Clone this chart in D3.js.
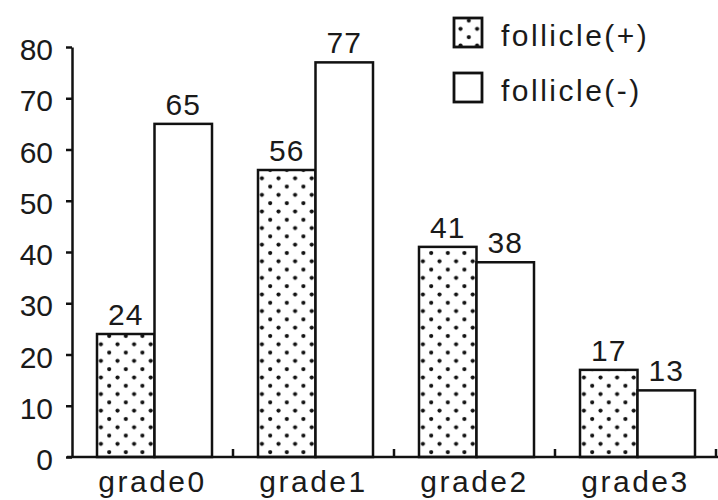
<!DOCTYPE html>
<html>
<head>
<meta charset="utf-8">
<script src="https://cdn.jsdelivr.net/npm/d3@7"></script>
<style>
  html, body { margin: 0; padding: 0; background: #fff; }
  svg { display: block; }
  text { font-family: "Liberation Sans", Arial, sans-serif; fill: #1a1a1a; }
</style>
</head>
<body>
<svg id="chart" width="718" height="500"></svg>
<script>
const categories = ["grade0", "grade1", "grade2", "grade3"];
const seriesNames = ["follicle(+)", "follicle(-)"];
const folliclePlus = [24, 56, 41, 17];
const follicleMinus = [65, 77, 38, 13];
const yTicks = [0, 10, 20, 30, 40, 50, 60, 70, 80];

const svg = d3.select("#chart");

// dotted pattern
const defs = svg.append("defs");
const pat = defs.append("pattern")
  .attr("id", "dots")
  .attr("patternUnits", "userSpaceOnUse")
  .attr("width", 16.6).attr("height", 16.6);
pat.append("rect").attr("width", 16.6).attr("height", 16.6).attr("fill", "#fff");
pat.append("circle").attr("cx", 4).attr("cy", 4).attr("r", 2.1).attr("fill", "#111");
pat.append("circle").attr("cx", 12.3).attr("cy", 12.3).attr("r", 2.1).attr("fill", "#111");

const x0 = d3.scaleBand().domain(categories).range([72, 716]).padding(0);
const x1 = d3.scaleBand().domain(seriesNames).range([25, 140]).padding(0);
const y = d3.scaleLinear().domain([0, 80]).range([457, 47]);

const data = categories.map((c, i) => ({
  cat: c,
  vals: [
    { s: seriesNames[0], v: folliclePlus[i] },
    { s: seriesNames[1], v: follicleMinus[i] }
  ]
}));

// Bars
const groups = svg.append("g").selectAll("g").data(data).join("g")
  .attr("transform", d => `translate(${x0(d.cat)},0)`);

groups.selectAll("rect").data(d => d.vals).join("rect")
  .attr("x", d => x1(d.s))
  .attr("y", d => y(d.v))
  .attr("width", x1.bandwidth())
  .attr("height", d => y(0) - y(d.v))
  .attr("fill", d => d.s === seriesNames[0] ? "url(#dots)" : "#fff")
  .attr("stroke", "#111")
  .attr("stroke-width", 2.5);

groups.selectAll("text.val").data(d => d.vals).join("text")
  .attr("class", "val")
  .attr("x", d => x1(d.s) + x1.bandwidth() / 2)
  .attr("y", d => y(d.v) - 9)
  .attr("text-anchor", "middle")
  .style("font-size", "30px")
  .style("letter-spacing", "1px")
  .text(d => d.v);

// Y axis
const yAxis = d3.axisLeft(y).tickValues(yTicks).tickSize(6).tickSizeOuter(0).tickPadding(13);
const gy = svg.append("g").attr("transform", "translate(72,0)").call(yAxis);
gy.select(".domain").attr("stroke", "#111").attr("stroke-width", 2.5);
gy.selectAll(".tick line").attr("stroke", "#111").attr("stroke-width", 2.5);
gy.selectAll(".tick text")
  .attr("dy", "0.42em")
  .style("font-size", "30px")
  .style("font-family", "'Liberation Sans', Arial, sans-serif")
  .attr("fill", "#1a1a1a");

// X axis
const gx = svg.append("g");
gx.append("line")
  .attr("x1", 67).attr("x2", 718)
  .attr("y1", y(0)).attr("y2", y(0))
  .attr("stroke", "#111").attr("stroke-width", 2.5);
gx.selectAll("line.tick").data(categories).join("line")
  .attr("class", "tick")
  .attr("x1", d => x0(d) + x0.step()).attr("x2", d => x0(d) + x0.step())
  .attr("y1", y(0)).attr("y2", y(0) - 8)
  .attr("stroke", "#111").attr("stroke-width", 2.5);
gx.selectAll("text").data(categories).join("text")
  .attr("x", d => x0(d) + x0.step() / 2)
  .attr("y", 492)
  .attr("text-anchor", "middle")
  .style("font-size", "30px")
  .style("letter-spacing", "2.5px")
  .text(d => d);

// Legend
const legend = svg.append("g");
const ly = [18, 73];
seriesNames.forEach((s, i) => {
  legend.append("rect")
    .attr("x", 454).attr("y", ly[i])
    .attr("width", 28).attr("height", 29)
    .attr("fill", i === 0 ? "url(#dots)" : "#fff")
    .attr("stroke", "#111").attr("stroke-width", 2.8);
  legend.append("text")
    .attr("x", 501).attr("y", ly[i] + 28)
    .style("font-size", "30px")
    .style("letter-spacing", "2.5px")
    .text(s);
});
</script>
</body>
</html>
